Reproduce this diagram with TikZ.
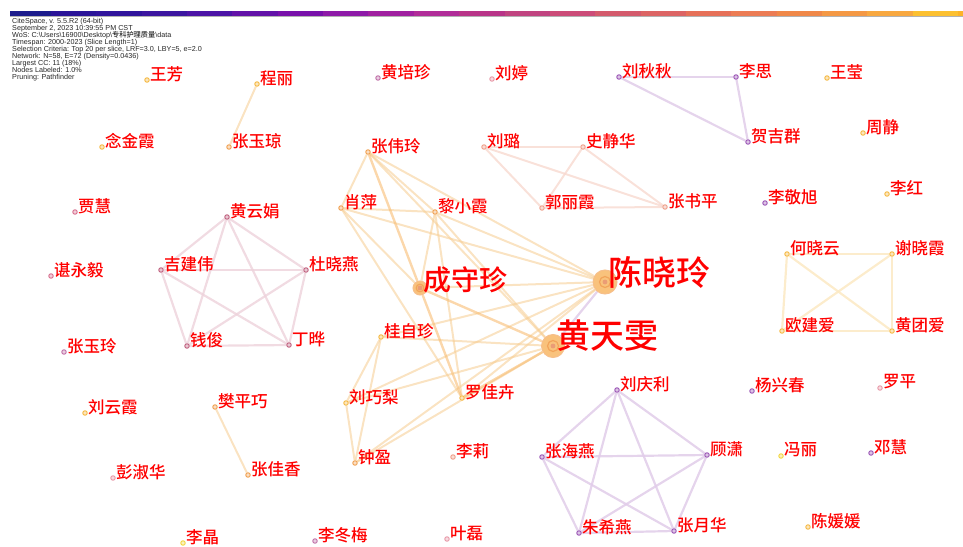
\documentclass[tikz,border=0pt]{standalone}
\usepackage{fontspec}
\newfontfamily\cjk{Noto Sans CJK SC Medium}
\newfontfamily\hdr{Liberation Sans}
\usetikzlibrary{backgrounds}

\definecolor{namered}{HTML}{FF0000}
\definecolor{cYel}{HTML}{F5B942}
\definecolor{cOrg}{HTML}{F0A050}
\definecolor{cPnk}{HTML}{D77090}
\definecolor{cMau}{HTML}{C0607F}
\definecolor{cPk2}{HTML}{C070A8}
\definecolor{cPur}{HTML}{9B55B5}
\definecolor{cLpk}{HTML}{E899A8}
\definecolor{cSal}{HTML}{EE9F8A}
\definecolor{cLye}{HTML}{F2D640}
\definecolor{cTan}{HTML}{F6CC90}
\definecolor{bigfill}{HTML}{F9C27C}
\definecolor{bigring}{HTML}{F2A45A}
% Zeitleiste oben
\definecolor{barnavy}{HTML}{1C1C8C}
\definecolor{bar0}{HTML}{2A1498}
\definecolor{bar1}{HTML}{30149C}
\definecolor{bar2}{HTML}{3C16A0}
\definecolor{bar3}{HTML}{4C14A6}
\definecolor{bar4}{HTML}{6212A8}
\definecolor{bar5}{HTML}{7810AA}
\definecolor{bar6}{HTML}{8E1AA8}
\definecolor{bar7}{HTML}{A020A0}
\definecolor{bar8}{HTML}{B02C98}
\definecolor{bar9}{HTML}{B83488}
\definecolor{bar10}{HTML}{C04480}
\definecolor{bar11}{HTML}{CC4C78}
\definecolor{bar12}{HTML}{D45A6C}
\definecolor{bar13}{HTML}{DC6464}
\definecolor{bar14}{HTML}{E67058}
\definecolor{bar15}{HTML}{EC7C54}
\definecolor{bar16}{HTML}{F08848}
\definecolor{bar17}{HTML}{F49844}
\definecolor{bar18}{HTML}{F8A840}
\definecolor{bar19}{HTML}{FCC030}

\tikzset{
  dot/.style={circle, inner sep=0pt, minimum size=4.5pt, draw=#1, fill=#1!35!white, line width=0.9pt},
  lab/.style={font=\cjk\fontsize{16.5}{16.5}\selectfont, text=namered, inner sep=0pt, anchor=west, xshift=0.3pt, yshift=6pt},
  biglab/.style={font=\cjk\fontsize{#1}{#1}\selectfont, text=namered, inner sep=0pt, anchor=west, xshift=3pt, yshift=10pt},
  bigdot/.style={circle, inner sep=0pt, minimum size=#1, fill=bigfill, draw=bigring!70!white, line width=1pt},
  oedge/.style={draw=cTan, line width=2pt, opacity=0.55},
  othick/.style={draw=cTan!80!orange, line width=2.4pt, opacity=0.6},
  pedge/.style={draw=cMau!28!white, line width=2.2pt, opacity=0.8},
  vedge/.style={draw=cPur!30!white, line width=2.2pt, opacity=0.85},
  sedge/.style={draw=cSal!40!white, line width=2pt, opacity=0.8},
  yedge/.style={draw=cYel!32!white, line width=2.2pt, opacity=0.85}
}

\begin{document}
\begin{tikzpicture}[x=1pt, y=-1pt]
    \useasboundingbox (0,0) rectangle (963,546);

    % Zeitleiste 2000-2023
    \fill[barnavy] (10,11) rectangle (51,16);
    \foreach \i in {0,...,19} {
        \fill[bar\i] ({51+45.35*\i},11) rectangle ++(45.35,5);
    }
    \fill[bar19!80!orange] (958,11) rectangle (963,16);
    \draw[black!30, line width=0.5pt] (10,16.3) -- (963,16.3);

    % Kopftext
    \node[anchor=north west, inner sep=0pt, align=left, text=black!85,
          font=\hdr\fontsize{7.2}{7}\selectfont] (info) at (12,18.5) {%
        CiteSpace, v. 5.5.R2 (64-bit)\\
        September 2, 2023 10:39:55 PM CST\\
        WoS: C:\textbackslash Users\textbackslash 16900\textbackslash Desktop\textbackslash\smash{\cjk 专科护理质量}\textbackslash data\\
        Timespan: 2000-2023 (Slice Length=1)\\
        Selection Criteria: Top 20 per slice, LRF=3.0, LBY=5, e=2.0\\
        Network: N=58, E=72 (Density=0.0436)\\
        Largest CC: 11 (18\%)\\
        Nodes Labeled: 1.0\%\\
        Pruning: Pathfinder};

    % Autoren (kleine Knoten)
    \foreach \n/\x/\y/\c/\t in {
        wf/147/80/cYel/王芳, cl/257/84/cYel/程丽, zyq/229/147/cOrg/张玉琼,
        njx/102/147/cYel/念金霞, jh/75/212/cPnk/贾慧, hyj/227/217/cMau/黄云娟,
        zyy/51/276/cPnk/谌永毅, jjw/161/270/cMau/吉建伟, dxy/306/270/cMau/杜晓燕,
        qj/187/346/cMau/钱俊, dy/289/345/cMau/丁晔, zyl/64/352/cPk2/张玉玲,
        lyx/85/413/cYel/刘云霞, fpq/215/407/cOrg/樊平巧, zjx/248/475/cOrg/张佳香,
        psh/113/478/cLpk/彭淑华, lj/183/543/cLye/李晶, ldm/315/541/cPk2/李冬梅,
        hpz/378/78/cPk2/黄培珍, lt/492/79/cLpk/刘婷, lqq/619/77/cPur/刘秋秋,
        ls/736/77/cPur/李思, wy/827/78/cYel/王莹, hjq/748/142/cPur/贺吉群,
        zj/863/133/cYel/周静, lh/887/194/cYel/李红, ljx/765/203/cPur/李敬旭,
        hxy/787/254/cYel/何晓云, xxx/892/254/cYel/谢晓霞, oja/782/331/cYel/欧建爱,
        hta/892/331/cYel/黄团爱, zwl/368/152/cOrg/张伟玲, ll/484/147/cSal/刘璐,
        sjh/583/147/cSal/史静华, xp/341/208/cOrg/肖萍, lxx/435/212/cOrg/黎小霞,
        glx/542/208/cSal/郭丽霞, zsp/665/207/cSal/张书平, gzz/381/337/cYel/桂自珍,
        lql/346/403/cYel/刘巧梨, ljh/462/398/cYel/罗佳卉, zy/355/463/cOrg/钟盈,
        lil/453/457/cSal/李莉, zhy/542/457/cPur/张海燕, yl/447/539/cLpk/叶磊,
        lqli/617/390/cPur/刘庆利, gx/707/455/cPur/顾潇, zxy/579/533/cPur/朱希燕,
        zyh/674/531/cPur/张月华, yxc/752/391/cPur/杨兴春, lp/880/388/cLpk/罗平,
        fl/781/456/cLye/冯丽, dh/871/453/cPur/邓慧, cyy/808/527/cYel/陈媛媛} {
        \node[dot=\c] (\n) at (\x,\y) {};
        \node[lab] (\n-t) at (\n.east) {\t};
    }

    % Autoren (grosse Knoten)
    \node[bigdot=24pt] (cxl) at (605,282) {};
    \node[bigdot=23pt] (hty) at (553,346) {};
    \node[bigdot=14pt] (csz) at (420,288) {};
    \foreach \n/\r in {cxl/5.5,hty/5.5,csz/3.8} {
        \draw[bigring, line width=1.2pt] (\n.center) circle (\r pt);
        \fill[cMau!45!orange!70!white] (\n.center) circle (2.4pt);
    }
    \node[biglab=34] (cxl-t) at (cxl.center) {陈晓玲};
    \node[biglab=34] (hty-t) at (hty.center) {黄天雯};
    \node[biglab=28, yshift=-2pt] (csz-t) at (csz.center) {成守珍};

    % Kanten
    \begin{scope}[on background layer]
        \draw[oedge] (cl) -- (zyq);
        \draw[oedge] (fpq) -- (zjx);
        \foreach \a/\b in {hyj/jjw, hyj/dxy, hyj/qj, hyj/dy, jjw/dxy,
                           jjw/qj, jjw/dy, dxy/qj, dxy/dy, qj/dy}
            \draw[pedge] (\a) -- (\b);
        \foreach \a/\b in {lqli/zhy, lqli/gx, lqli/zxy, lqli/zyh, zhy/gx,
                           zhy/zxy, zhy/zyh, gx/zxy, gx/zyh, zxy/zyh,
                           lqq/ls, ls/hjq, lqq/hjq}
            \draw[vedge] (\a) -- (\b);
        \foreach \a/\b in {ll/sjh, ll/glx, ll/zsp, sjh/glx, sjh/zsp, glx/zsp}
            \draw[sedge] (\a) -- (\b);
        \foreach \a/\b in {hxy/xxx, hxy/oja, hxy/hta, xxx/oja, xxx/hta, oja/hta}
            \draw[yedge] (\a) -- (\b);
        \foreach \a/\b in {zwl/xp, zwl/lxx, zwl/cxl, zwl/hty, xp/lxx, xp/csz,
                           xp/cxl, xp/ljh, lxx/csz, lxx/cxl, lxx/hty, lxx/ljh,
                           csz/cxl, cxl/gzz, cxl/lql, cxl/ljh, cxl/zy,
                           hty/gzz, hty/lql, hty/zy, gzz/lql, gzz/zy, lql/zy}
            \draw[oedge] (\a) -- (\b);
        \foreach \a/\b in {zwl/csz, csz/hty, csz/ljh, ljh/hty}
            \draw[othick] (\a) -- (\b);
        \draw[vedge] (cxl) -- (hty);
    \end{scope}
\end{tikzpicture}
\end{document}
